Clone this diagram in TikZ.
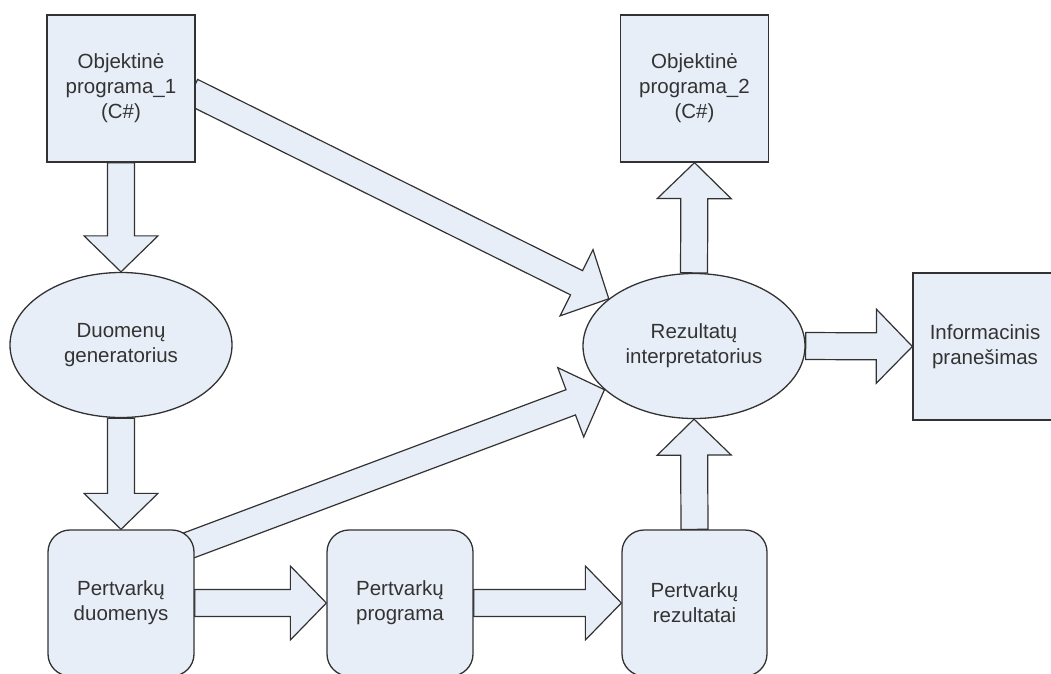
\documentclass[tikz,border=0pt]{standalone}
\usepackage{fontspec}
\setmainfont{Liberation Sans}
\usetikzlibrary{shapes.geometric,calc,backgrounds}

\definecolor{boxfill}{RGB}{232,238,247}
\definecolor{boxline}{RGB}{50,50,50}

\newcommand{\shaftw}{13.5pt}
\newcommand{\headw}{37pt}
\newcommand{\headlen}{36pt}
% block arrow from #1 to #2
\newcommand{\fatarr}[2]{%
  \coordinate (fa-h) at ($(#2)!\headlen!(#1)$);
  \draw[blockarrow] ($(#1)!\shaftw!90:(#2)$) -- ($(fa-h)!\shaftw!90:(#2)$)
    -- ($(fa-h)!\headw!90:(#2)$) -- (#2) -- ($(fa-h)!\headw!-90:(#2)$)
    -- ($(fa-h)!\shaftw!-90:(#2)$) -- ($(#1)!\shaftw!-90:(#2)$) -- cycle;
}

\tikzset{
  base/.style={draw=boxline, fill=boxfill, line width=1.3pt, align=center,
    font=\fontsize{20.5}{25}\selectfont, text=black!80, inner sep=0pt},
  prog/.style={base, rectangle, minimum width=148pt, minimum height=147pt},
  proc/.style={base, ellipse, minimum width=222pt, minimum height=145pt},
  datab/.style={base, rectangle, rounded corners=22pt, minimum width=146pt, minimum height=146pt},
  blockarrow/.style={draw=boxline, fill=boxfill, line width=1.2pt, line join=miter},
}

\begin{document}
\begin{tikzpicture}[x=1pt,y=-1pt]
\useasboundingbox (0,0) rectangle (1051,673);

% programs
\node[prog] (obj1) at (121,88.5) {Objektinė\\programa\_1\\(C\#)};
\node[prog] (obj2) at (694.5,88.5) {Objektinė\\programa\_2\\(C\#)};

% processors
\node[proc] (gen) at (121,345) {Duomenų\\generatorius};
\node[proc] (rez) at (694,346) {Rezultatų\\interpretatorius};
\node[prog, minimum width=144pt] (info) at (985,346.5) {Informacinis\\pranešimas};

% data
\node[datab] (pd) at (121,603) {Pertvarkų\\duomenys};
\node[datab] (pp) at (400,603) {Pertvarkų\\programa};
\node[datab, minimum width=145pt] (pr) at (694.5,603) {Pertvarkų\\rezultatai};

\coordinate (pdcorner) at ($(pd.38)+(-6,0)$);
\coordinate (objedge) at ($(obj1.east)+(-4,3)$);

\begin{scope}[on background layer]
\fatarr{obj1.south}{gen.north}
\fatarr{objedge}{rez.151}
\fatarr{gen.south}{pd.north}
\fatarr{pdcorner}{rez.206}
\fatarr{pd.east}{pp.west}
\fatarr{pp.east}{pr.west}
\fatarr{pr.north}{rez.south}
\fatarr{rez.north}{obj2.south}
\fatarr{rez.east}{info.west}
\end{scope}
\end{tikzpicture}
\end{document}
